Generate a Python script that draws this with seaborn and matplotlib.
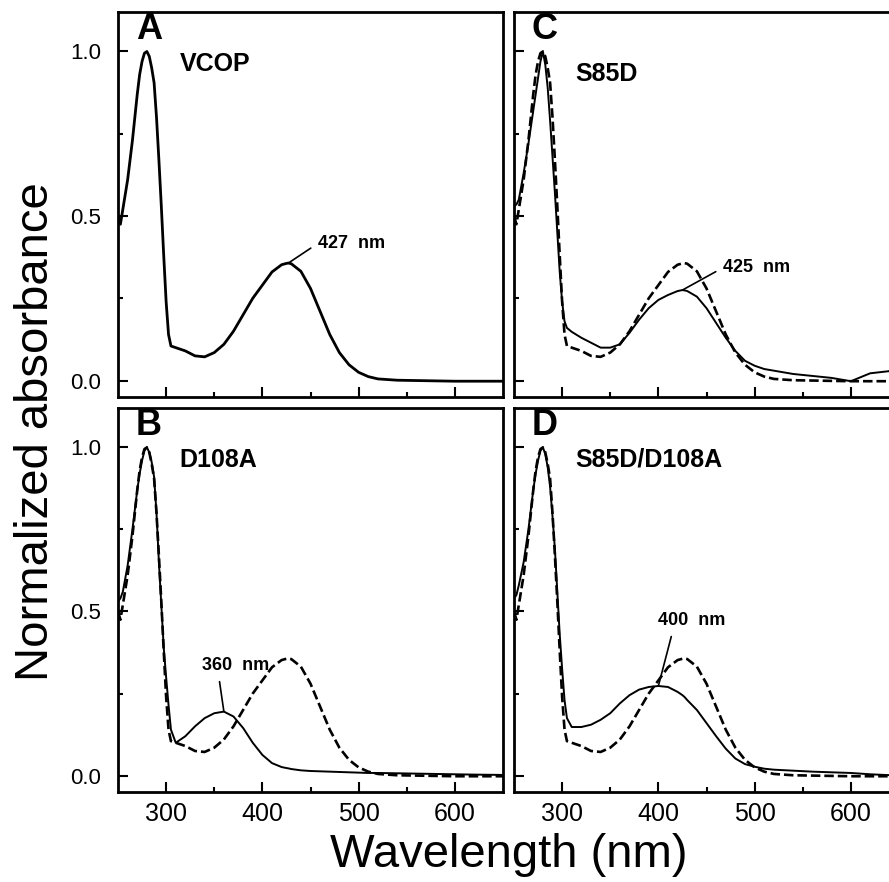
import numpy as np
import pandas as pd
import matplotlib
matplotlib.use("Agg")
import matplotlib.pyplot as plt
import seaborn as sns

sns.set_style("ticks")
plt.rcParams["font.family"] = ["Liberation Sans", "DejaVu Sans"]
plt.rcParams["text.color"] = "black"
plt.rcParams["axes.labelcolor"] = "black"
plt.rcParams["xtick.color"] = "black"
plt.rcParams["ytick.color"] = "black"

# Wavelength grid (nm)
wavelength = [250, 252.5, 255, 260, 265, 267.5, 270, 272.5, 275, 277.5, 280, 282.5,
              285, 287.5, 290, 292.5, 295, 297.5, 300, 302.5, 305, 310,
              320, 330, 340, 350, 360, 370, 380, 390, 400, 410, 420, 425, 427,
              430, 440, 450, 460, 470, 480, 490, 500, 510, 520, 540, 560, 580,
              600, 620, 650]

# Normalized absorbance spectra
vcop = [0.50, 0.475, 0.52, 0.61, 0.73, 0.80, 0.87, 0.93, 0.97, 0.995, 1.00, 0.985,
        0.95, 0.905, 0.80, 0.67, 0.53, 0.38, 0.24, 0.14, 0.105, 0.10,
        0.09, 0.075, 0.072, 0.085, 0.11, 0.15, 0.20, 0.25, 0.29, 0.33, 0.352, 0.356, 0.357,
        0.355, 0.332, 0.28, 0.21, 0.14, 0.085, 0.048, 0.025, 0.012, 0.005, 0.001, 0.0, -0.001,
        -0.002, -0.002, -0.002]

d108a = [0.53, 0.54, 0.56, 0.64, 0.75, 0.81, 0.87, 0.92, 0.96, 0.99, 1.00, 0.985,
         0.955, 0.91, 0.80, 0.65, 0.52, 0.39, 0.30, 0.215, 0.14, 0.10,
         0.12, 0.15, 0.175, 0.19, 0.195, 0.18, 0.145, 0.10, 0.063, 0.038, 0.026, 0.023, 0.022,
         0.02, 0.016, 0.014, 0.013, 0.012, 0.011, 0.01, 0.009, 0.008, 0.008, 0.007, 0.006, 0.005,
         0.004, 0.003, 0.002]

s85d = [0.53, 0.535, 0.55, 0.63, 0.72, 0.77, 0.82, 0.87, 0.92, 0.97, 1.00, 0.96,
        0.89, 0.79, 0.68, 0.57, 0.45, 0.33, 0.24, 0.18, 0.16, 0.148,
        0.13, 0.115, 0.10, 0.10, 0.11, 0.145, 0.185, 0.22, 0.245, 0.26, 0.272, 0.275, 0.274,
        0.272, 0.255, 0.22, 0.175, 0.13, 0.09, 0.06, 0.045, 0.035, 0.03, 0.02, 0.014, 0.008,
        -0.002, 0.022, 0.032]

s85d_d108a = [0.54, 0.55, 0.58, 0.65, 0.75, 0.81, 0.87, 0.92, 0.96, 0.99, 1.00, 0.98,
              0.94, 0.88, 0.79, 0.69, 0.56, 0.43, 0.325, 0.23, 0.175, 0.148,
              0.148, 0.155, 0.17, 0.19, 0.22, 0.245, 0.262, 0.27, 0.273, 0.27, 0.255, 0.245, 0.24,
              0.23, 0.20, 0.16, 0.12, 0.082, 0.052, 0.035, 0.027, 0.021, 0.018, 0.015, 0.012, 0.01,
              0.008, 0.004, 0.0]

panel_letters = ["A", "B", "C", "D"]
panel_names = ["VCOP", "D108A", "S85D", "S85D/D108A"]
peak_nm = [427, 360, 425, 400]
x_ticks = [300, 400, 500, 600]
y_ticks = [0.0, 0.5, 1.0]

W, H = 889, 882
fig = plt.figure(figsize=(W / 100, H / 100), dpi=100)


def px_axes(left, top, width, height):
    return fig.add_axes([left / W, 1 - (top + height) / H, width / W, height / H])


axA = px_axes(118, 12, 385, 385)
axC = px_axes(514, 12, 385, 385)
axB = px_axes(118, 408, 385, 384)
axD = px_axes(514, 408, 385, 384)

dash = (0, (3.6, 1.5))

panels = [
    (axA, vcop, None, 2.0),
    (axB, d108a, vcop, 1.4),
    (axC, s85d, vcop, 1.4),
    (axD, s85d_d108a, vcop, 1.4),
]

for ax, solid, dashed, lw in panels:
    if dashed is not None:
        sns.lineplot(x=wavelength, y=dashed, ax=ax, color="black", lw=1.9,
                     linestyle=dash, estimator=None, sort=False)
    sns.lineplot(x=wavelength, y=solid, ax=ax, color="black", lw=lw,
                 estimator=None, sort=False)
    ax.set_xlim(250, 650)
    ax.set_ylim(-0.05, 1.12)
    ax.set_xticks(x_ticks)
    ax.set_xticks([350, 450, 550], minor=True)
    ax.set_yticks(y_ticks)
    ax.set_yticks([0.25, 0.75], minor=True)
    ax.tick_params(which="both", direction="in", width=1.5, color="black",
                   labelcolor="black")
    ax.tick_params(which="major", length=7)
    ax.tick_params(which="minor", length=3.8)
    ax.tick_params(axis="y", labelsize=16, pad=12)
    ax.tick_params(axis="x", labelsize=18, pad=7)
    ax.yaxis.set_major_formatter(matplotlib.ticker.FormatStrFormatter("%.1f"))
    for sp in ax.spines.values():
        sp.set_linewidth(2.0)
        sp.set_color("black")
        sp.set_visible(True)
    ax.set_xlabel("")
    ax.set_ylabel("")

for ax in (axA, axC):
    ax.tick_params(axis="x", labelbottom=False)
for ax in (axC, axD):
    ax.tick_params(axis="y", labelleft=False)

axes_order = [axA, axB, axC, axD]
solids = [vcop, d108a, s85d, s85d_d108a]
name_y = [0.865, 0.865, 0.84, 0.865]
# label offsets (points) and leader attachment on the text box
offsets = [(21, 14), (-16, 33), (29, 16), (0, 47)]
relpos = [(0, 0.5), (0.25, 0), (0, 0.5), (0.22, 0)]

for ax, letter, name, peak, sol, ny, off, rp in zip(axes_order, panel_letters, panel_names,
                                                     peak_nm, solids, name_y, offsets, relpos):
    ax.text(0.08, 0.955, letter, transform=ax.transAxes, fontsize=26,
            fontweight="bold", ha="center", va="center", color="black")
    ax.text(0.16, ny, name, transform=ax.transAxes, fontsize=18,
            fontweight="bold", ha="left", va="center", color="black")
    peak_val = sol[wavelength.index(peak)]
    ax.annotate(f"{peak}  nm", xy=(peak, peak_val), xytext=off,
                textcoords="offset points", fontsize=13, fontweight="bold",
                ha="left", va="center", color="black",
                arrowprops=dict(arrowstyle="-", lw=1.2, color="black",
                                shrinkA=3, shrinkB=0, relpos=rp))

fig.text(509 / W, 1 - 855 / H, "Wavelength (nm)", fontsize=34, ha="center",
         va="center", color="black")
fig.text(36 / W, 1 - 432 / H, "Normalized absorbance", fontsize=34, rotation=90,
         ha="center", va="center", color="black")

fig.savefig("out.png", dpi=100, facecolor="white")
